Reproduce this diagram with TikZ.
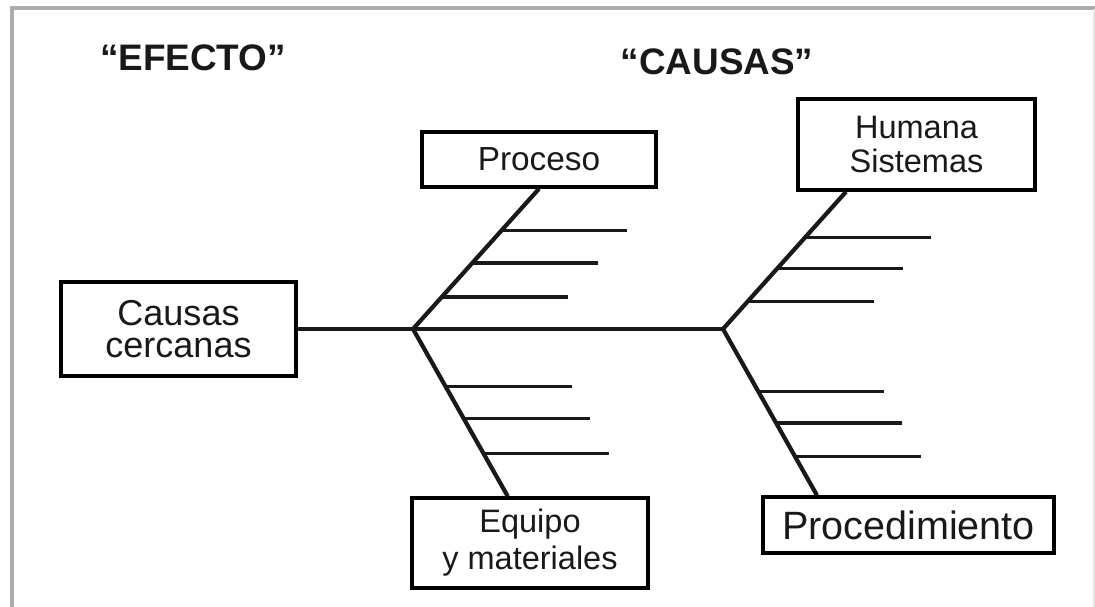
\documentclass[tikz,border=0pt]{standalone}
\usepackage{fontspec}
\setmainfont{Liberation Sans}
\usetikzlibrary{calc}
\begin{document}
\begin{tikzpicture}[x=0.02cm,y=-0.02cm]
                \tikzstyle{box}=[draw, line width=2pt, inner sep=0pt, align=center, text=black!90]
                \tikzstyle{bone}=[line width=2.4pt, black!90]
                \tikzstyle{rib}=[line width=1.9pt, black!90]
                \tikzstyle{title}=[font=\bfseries\fontsize{21}{24}\selectfont, text=black!90]

                \useasboundingbox (0,0) rectangle (1095,607);
                \draw[gray!65, line width=2.3pt] (12,607) -- (12,8) -- (1095,8);
                \draw[gray!20, line width=1pt] (1094,9) -- (1094,607);

                \node[title] (ef) at (193,58) {“EFECTO”};
                \node[title] (ca) at (717,62) {“CAUSAS”};

                \node[box, minimum width=4.7cm, minimum height=1.88cm, font=\fontsize{20.5}{18.5}\selectfont] (cc) at (178.5,329) {Causas\\cercanas};
                \node[box, minimum width=4.68cm, minimum height=1.1cm, font=\fontsize{19}{20}\selectfont] (pr) at (539,159.5) {Proceso};
                \node[box, minimum width=4.74cm, minimum height=1.82cm, font=\fontsize{18.5}{19.5}\selectfont] (hs) at (916.5,144.5) {Humana\\Sistemas};
                \node[box, minimum width=4.72cm, minimum height=1.8cm, font=\fontsize{18.5}{21}\selectfont] (em) at (530,543) {Equipo\\y materiales};
                \node[box, minimum width=5.82cm, minimum height=1.12cm, font=\fontsize{22.5}{24}\selectfont] (pd) at (908.5,525) {Procedimiento};

                \coordinate (j1) at (413,329);
                \coordinate (j2) at (723,329);
                \coordinate (e2) at ($(em.north west)!0.407!(em.north east)$);
                \coordinate (h2) at ($(hs.south west)!0.207!(hs.south east)$);
                \coordinate (p2) at ($(pd.north west)!0.189!(pd.north east)$);

                \draw[rib] (cc.east) -- (j2);
                \draw[bone] (j1) -- (pr.south);
                \draw[bone] (j1) -- (e2);
                \draw[bone] (j2) -- (h2);
                \draw[bone] (j2) -- (p2);

                \draw[rib] ($(j1)!0.227!(pr.south)$) -- ++(126,0);
                \draw[rib] ($(j1)!0.47!(pr.south)$) -- ++(126,0);
                \draw[rib] ($(j1)!0.70!(pr.south)$) -- ++(126,0);
                \draw[rib] ($(j1)!0.345!(e2)$) -- ++(126,0);
                \draw[rib] ($(j1)!0.536!(e2)$) -- ++(126,0);
                \draw[rib] ($(j1)!0.744!(e2)$) -- ++(126,0);
                \draw[rib] ($(j2)!0.2!(h2)$) -- ++(126,0);
                \draw[rib] ($(j2)!0.44!(h2)$) -- ++(126,0);
                \draw[rib] ($(j2)!0.667!(h2)$) -- ++(126,0);
                \draw[rib] ($(j2)!0.375!(p2)$) -- ++(126,0);
                \draw[rib] ($(j2)!0.565!(p2)$) -- ++(126,0);
                \draw[rib] ($(j2)!0.768!(p2)$) -- ++(126,0);
            \end{tikzpicture}
\end{document}
